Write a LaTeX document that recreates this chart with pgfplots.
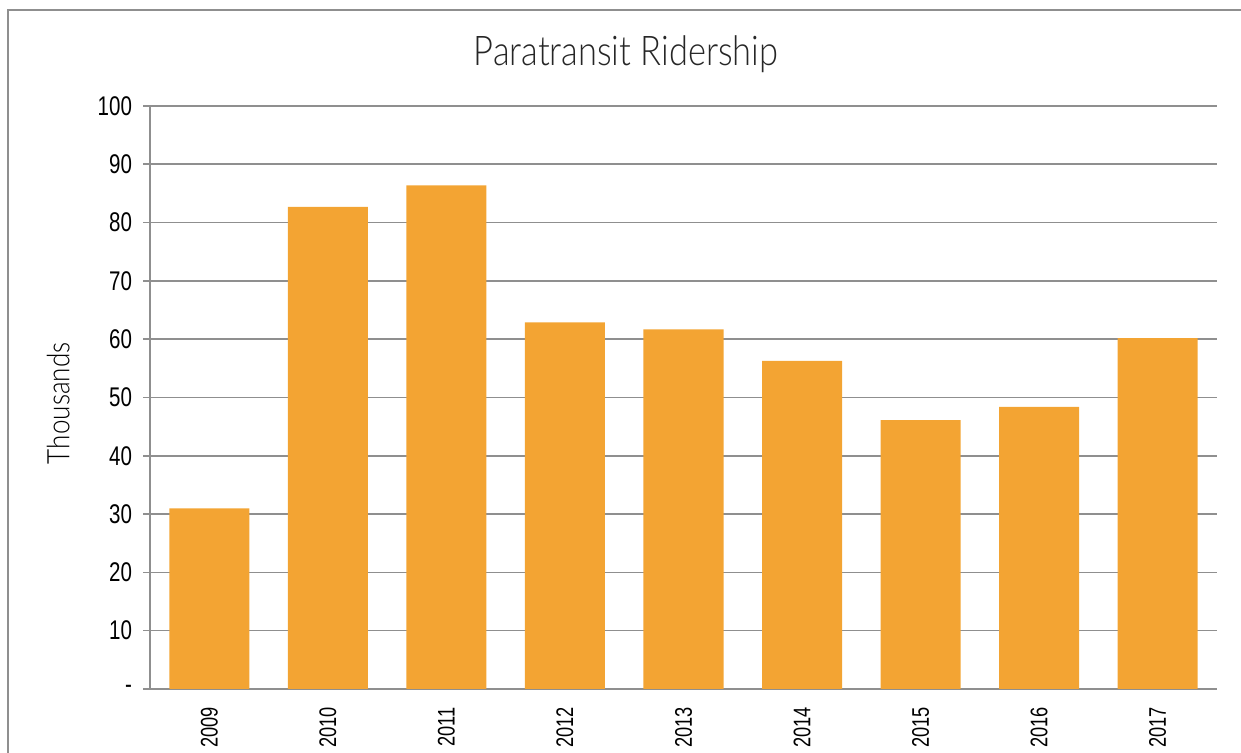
\documentclass[border=0pt]{standalone}
\usepackage{fontspec}
\setmainfont{Liberation Sans}
\newfontfamily\lightfont[FakeStretch=0.84]{Lato Light}
\newfontfamily\narrowfont[FakeStretch=0.76]{Liberation Sans}
\usepackage{pgfplots}
\pgfplotsset{compat=1.18}
\definecolor{barorange}{HTML}{F3A433}
\definecolor{gridgray}{HTML}{8F8F8F}
\begin{document}
\begin{tikzpicture}
\useasboundingbox (0,0) rectangle (620.5pt,376.5pt);
\draw[gridgray, line width=1pt] (4pt,0pt) -- (4pt,371.5pt) -- (620.5pt,371.5pt);
\node[font=\lightfont\fontsize{20.5}{24}\selectfont, text=black!85] at (313pt,349.5pt) {Paratransit Ridership};
\begin{axis}[
  at={(75pt,32pt)}, anchor=south west,
  scale only axis, width=533.5pt, height=291.5pt,
  xmin=-0.5, xmax=8.5, ymin=0, ymax=100,
  axis x line*=bottom, axis y line*=left,
  axis line style={gridgray, line width=0.8pt},
  ytick={0,10,...,100},
  yticklabels={-,10,20,30,40,50,60,70,80,90,100},
  ymajorgrids, major grid style={gridgray, line width=0.8pt},
  y tick label style={font=\narrowfont\fontsize{13.5}{15}\selectfont, xshift=-2pt},
  xtick={0,...,8},
  xticklabels={2009,2010,2011,2012,2013,2014,2015,2016,2017},
  x tick label style={font=\narrowfont\fontsize{12}{14}\selectfont, rotate=90, anchor=east, xshift=-2pt},
  x tick style={draw=none},
  extra x ticks={-0.5,0.5,...,8.5},
  extra x tick labels={},
  extra x tick style={major tick length=4.5pt, tick style={draw=gridgray, line width=0.8pt}, grid=none},
  tick align=outside,
  y tick style={draw=gridgray, line width=0.8pt},
  major tick length=3.5pt,
  ylabel={Thousands},
  ylabel style={font=\lightfont\fontsize{15.5}{18}\selectfont, at={(axis description cs:-0.086,0.49)}, anchor=center},
  clip=false,
]
\addplot[ybar, bar width=0.675, fill=barorange, draw=none] coordinates {
(0,31.0) (1,82.7) (2,86.4) (3,62.9) (4,61.7) (5,56.3) (6,46.1) (7,48.4) (8,60.2)
};
\end{axis}
\end{tikzpicture}
\end{document}
